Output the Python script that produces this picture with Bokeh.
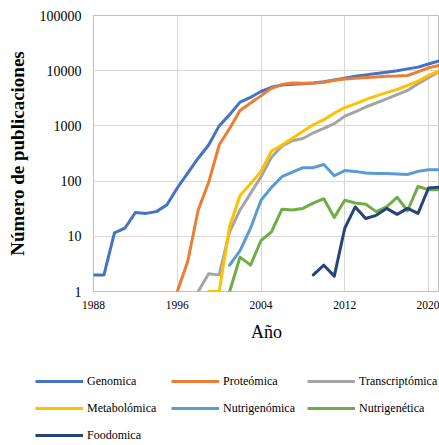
from bokeh.plotting import figure
from bokeh.layouts import column
from bokeh.models import FixedTicker, NumeralTickFormatter, Legend, LegendItem, Range1d
from bokeh.embed import file_html
from bokeh.resources import INLINE

years = list(range(1988, 2022))
N = None
genomica = [2, 2, 11.5, 14, 27, 26, 28, 37, 75, 140, 260, 450, 1000, 1600, 2700, 3300, 4200,
            5000, 5500, 5700, 5800, 6000, 6300, 6800, 7300, 7900, 8400, 8900, 9400, 10000,
            10800, 11600, 13200, 15000]
proteomica = [N] * 8 + [1, 3.5, 30, 95, 450, 900, 1900, 2600, 3500, 4800, 5600, 6000, 5900,
                        6000, 6200, 6700, 7100, 7300, 7500, 7700, 7900, 8000, 8200, 9500, 11300, 12500]
transcriptomica = [N] * 10 + [1, 2.1, 2.0, 12, 30, 60, 120, 270, 430, 540, 590, 750, 900, 1100,
                              1500, 1800, 2200, 2600, 3100, 3700, 4400, 5800, 7500, 9500]
metabolomica = [N] * 11 + [1, 1, 15, 55, 90, 150, 350, 450, 600, 800, 1050, 1300, 1700, 2150,
                           2500, 3000, 3500, 4000, 4600, 5400, 6500, 8200, 9800]
nutrigenomica = [N] * 13 + [3, 5.5, 14, 45, 77, 120, 145, 175, 175, 200, 125, 155, 150, 140,
                            137, 138, 135, 132, 150, 160, 160]
nutrigenetica = [N] * 13 + [1, 4.2, 3, 8.4, 12, 31, 30, 32, 40, 48, 22, 45, 40, 38, 28, 34,
                            51, 29, 80, 70, 70]
foodomica = [N] * 21 + [2, 3, 1.9, 14, 34, 21, 24, 32, 25, 32, 26, 75, 77]

names = ["Genomica", "Proteómica", "Transcriptómica", "Metabolómica",
         "Nutrigenómica", "Nutrigenética", "Foodomica"]
series = [genomica, proteomica, transcriptomica, metabolomica,
          nutrigenomica, nutrigenetica, foodomica]
colors = ["#4472C4", "#ED7D31", "#A5A5A5", "#FFC000", "#5B9BD5", "#70AD47", "#264478"]
x_ticks = [1988, 1996, 2004, 2012, 2020]
y_ticks = [1, 10, 100, 1000, 10000, 100000]

FONT = "Liberation Serif"

p = figure(width=439, height=360, y_axis_type="log",
           x_range=Range1d(1988, 2021.05), y_range=Range1d(1, 100000),
           output_backend="svg", toolbar_location=None,
           min_border_left=93, min_border_top=15, min_border_right=0, min_border_bottom=69,
           background_fill_color="white", border_fill_color="white")
p.frame_align = False

p.outline_line_color = "#BFBFBF"
p.grid.grid_line_color = "#D9D9D9"
p.grid.grid_line_width = 1

p.xaxis.ticker = FixedTicker(ticks=x_ticks)
p.yaxis.ticker = FixedTicker(ticks=y_ticks)
p.yaxis.formatter = NumeralTickFormatter(format="0")

for ax in (p.xaxis, p.yaxis):
    ax.axis_line_color = None
    ax.major_tick_line_color = None
    ax.minor_tick_line_color = None
    ax.major_tick_out = 0
    ax.major_tick_in = 0
    ax.major_label_text_font = FONT
    ax.major_label_text_color = "#000000"
    ax.axis_label_text_font = FONT
    ax.axis_label_text_color = "#000000"

p.yaxis.major_label_text_font_size = "14px"
p.yaxis.major_label_standoff = 12
p.yaxis.axis_label = "Número de publicaciones"
p.yaxis.axis_label_text_font_size = "19px"
p.yaxis.axis_label_text_font_style = "bold"
p.yaxis.axis_label_standoff = 9

p.xaxis.major_label_text_font_size = "11.5px"
p.xaxis.major_label_standoff = 9
p.xaxis.axis_label = "Año"
p.xaxis.axis_label_text_font_size = "18px"
p.xaxis.axis_label_text_font_style = "normal"
p.xaxis.axis_label_standoff = 10

clean = [[float("nan") if v is None else v for v in vals] for vals in series]
for ys, col in zip(clean, colors):
    p.line(years, ys, line_color=col, line_width=3, line_join="round", line_cap="round")

# legend panel: a separate figure under the chart (its lines lie outside its own view)
lg = figure(width=439, height=85, output_backend="svg", toolbar_location=None,
            x_range=Range1d(0, 1), y_range=Range1d(0, 1),
            x_axis_location=None, y_axis_location=None,
            min_border_left=0, min_border_right=0, min_border_top=0, min_border_bottom=0,
            background_fill_color="white", border_fill_color="white")
lg.frame_align = False
lg.outline_line_color = None
lg.grid.visible = False
items = []
for name, ys, col in zip(names, clean, colors):
    r = lg.line(years, ys, line_color=col, line_width=3)
    items.append(LegendItem(label=name, renderers=[r]))

legend = Legend(items=items, location=(35, 0), orientation="horizontal", ncols=3,
                glyph_width=48, glyph_height=20, label_height=20, label_width=77,
                label_standoff=4, spacing=7, padding=0, margin=0,
                border_line_color=None, background_fill_alpha=0,
                label_text_font=FONT, label_text_font_size="12px",
                label_text_color="#000000")
lg.add_layout(legend, "center")

layout = column(p, lg, spacing=0)
open("out.html", "w").write(file_html(layout, INLINE))
